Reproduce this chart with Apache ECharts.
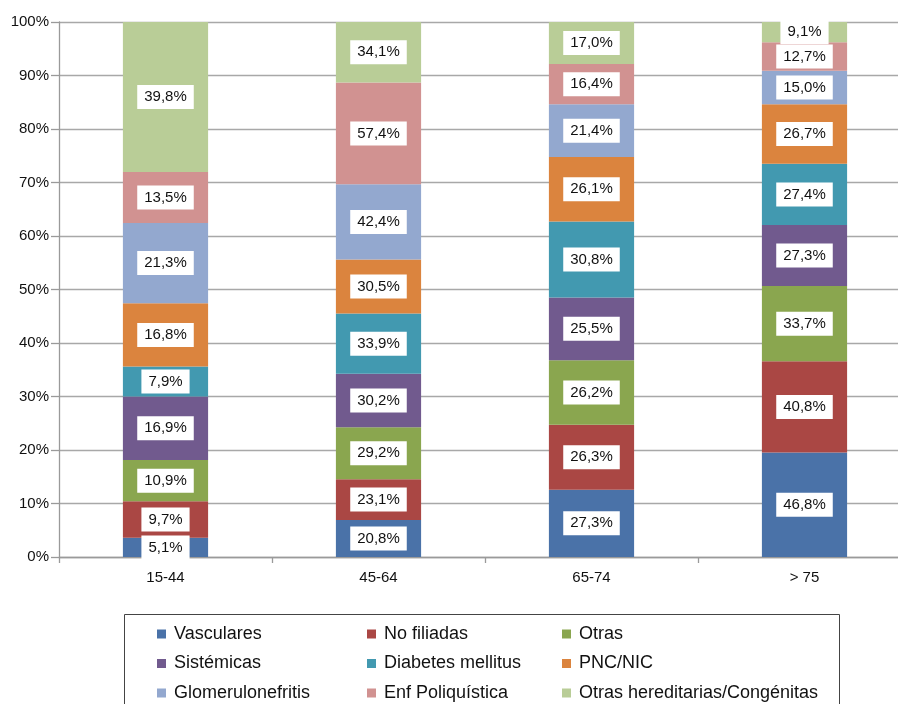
<!DOCTYPE html>
<html>
<head>
<meta charset="utf-8">
<script src="https://cdn.jsdelivr.net/npm/echarts@6/dist/echarts.min.js"></script>
<style>html,body{margin:0;padding:0;background:#fff;overflow:hidden}#c{width:911px;height:704px}</style>
</head>
<body>
<div id="c"></div>
<script>
var categories = ['15-44', '45-64', '65-74', '> 75'];
var yTicks = [0, 10, 20, 30, 40, 50, 60, 70, 80, 90, 100];

var vasculares = [5.1, 20.8, 27.3, 46.8];
var noFiliadas = [9.7, 23.1, 26.3, 40.8];
var otras = [10.9, 29.2, 26.2, 33.7];
var sistemicas = [16.9, 30.2, 25.5, 27.3];
var diabetes = [7.9, 33.9, 30.8, 27.4];
var pncNic = [16.8, 30.5, 26.1, 26.7];
var glomerulonefritis = [21.3, 42.4, 21.4, 15.0];
var enfPoliquistica = [13.5, 57.4, 16.4, 12.7];
var otrasHereditarias = [39.8, 34.1, 17.0, 9.1];

var seriesNames = ['Vasculares', 'No filiadas', 'Otras', 'Sistémicas', 'Diabetes mellitus', 'PNC/NIC', 'Glomerulonefritis', 'Enf Poliquística', 'Otras hereditarias/Congénitas'];
var seriesValues = [vasculares, noFiliadas, otras, sistemicas, diabetes, pncNic, glomerulonefritis, enfPoliquistica, otrasHereditarias];
var colors = ['#4a72a8', '#aa4744', '#8aa64f', '#715a8e', '#4299b0', '#db843e', '#93a8cf', '#d19291', '#b9cd97'];

var totals = categories.map(function (c, i) {
  return seriesValues.reduce(function (s, arr) { return s + arr[i]; }, 0);
});

var FONT = 'Liberation Sans, Arial, sans-serif';

var series = seriesNames.map(function (name, k) {
  return {
    name: name,
    type: 'bar',
    stack: 'total',
    barCategoryGap: '60%',
    itemStyle: { color: colors[k] },
    label: {
      show: true,
      position: 'inside',
      color: '#111',
      fontFamily: FONT,
      fontSize: 15,
      backgroundColor: '#fff',
      padding: [5, 7, 4, 7],
      formatter: function (p) {
        return seriesValues[k][p.dataIndex].toFixed(1).replace('.', ',') + '%';
      }
    },
    data: seriesValues[k].map(function (v, i) { return v / totals[i] * 100; })
  };
});

var legendCols = [[0, 3, 6], [1, 4, 7], [2, 5, 8]];
var legendLefts = [152, 362, 557];
var legends = legendCols.map(function (col, j) {
  return {
    orient: 'vertical',
    left: legendLefts[j],
    top: 620,
    height: 100,
    itemWidth: 9,
    itemHeight: 9,
    itemGap: 11.5,
    icon: 'rect',
    selectedMode: false,
    textStyle: { fontSize: 18, color: '#111', fontFamily: FONT, lineHeight: 18, padding: [0, 0, 0, 3] },
    data: col.map(function (k) { return seriesNames[k]; })
  };
});

var chart = echarts.init(document.getElementById('c'), null, { renderer: 'canvas' });
chart.setOption({
  animation: false,
  color: colors,
  grid: { left: 59, top: 22, right: 0, height: 535, containLabel: false },
  legend: legends,
  xAxis: {
    type: 'category',
    data: categories,
    axisLine: { lineStyle: { color: '#9a9a9a', width: 1.3 } },
    axisTick: { show: true, length: 6, lineStyle: { color: '#9a9a9a', width: 1.3 } },
    axisLabel: { color: '#111', fontSize: 15, margin: 13, fontFamily: FONT }
  },
  yAxis: {
    type: 'value',
    min: yTicks[0],
    max: yTicks[yTicks.length - 1],
    interval: 10,
    axisLine: { show: true, lineStyle: { color: '#9a9a9a', width: 1.3 } },
    axisTick: { show: true, length: 8, lineStyle: { color: '#9a9a9a', width: 1.3 } },
    splitLine: { lineStyle: { color: '#a8a8a8', width: 1.3 } },
    axisLabel: { color: '#111', fontSize: 15, margin: 10, fontFamily: FONT, formatter: '{value}%' }
  },
  graphic: [{
    type: 'rect',
    shape: { x: 124.5, y: 614.5, width: 715, height: 100 },
    style: { fill: 'none', stroke: '#444', lineWidth: 1 },
    silent: true
  }],
  series: series
});
</script>
</body>
</html>
